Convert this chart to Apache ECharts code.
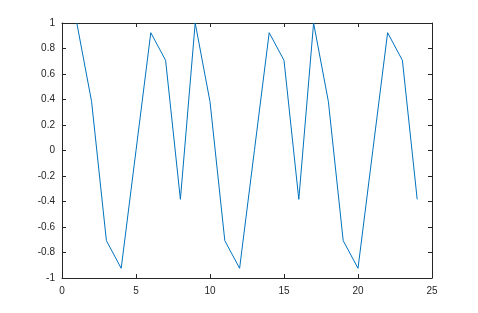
<!DOCTYPE html>
<html><head><meta charset="utf-8">
<script src="https://cdn.jsdelivr.net/npm/echarts@6/dist/echarts.min.js"></script>
<style>html,body{margin:0;padding:0;background:#fff}#c{width:478px;height:313px}</style>
</head><body><div id="c"></div>
<script>
var xValues = [1,2,3,4,5,6,7,8,9,10,11,12,13,14,15,16,17,18,19,20,21,22,23,24];
var yValues = [1,0.383,-0.707,-0.924,0,0.924,0.707,-0.383,1,0.383,-0.707,-0.924,0,0.924,0.707,-0.383,1,0.383,-0.707,-0.924,0,0.924,0.707,-0.383];
var xTicks = [0,5,10,15,20,25];
var yTicks = [-1,-0.8,-0.6,-0.4,-0.2,0,0.2,0.4,0.6,0.8,1];

var chart = echarts.init(document.getElementById('c'), null, {renderer:'canvas'});
var axisCol = '#262626';
var fmt = function(v){ return String(Math.round(v*10)/10); };
function common(){ return {
  axisLine:{show:true, onZero:false, lineStyle:{color:axisCol, width:1}},
  axisTick:{show:true, inside:true, length:4, lineStyle:{color:axisCol, width:1}},
  splitLine:{show:false}
};}
chart.setOption({
  animation:false,
  grid:{left:62, right:46, top:23, bottom:35},
  xAxis:[
    Object.assign({type:'value', min:xTicks[0], max:xTicks[xTicks.length-1], interval:5, position:'bottom',
      axisLabel:{color:axisCol, fontFamily:'Liberation Sans', fontSize:10, margin:8, formatter:fmt}}, common()),
    Object.assign({type:'value', min:xTicks[0], max:xTicks[xTicks.length-1], interval:5, position:'top',
      axisLabel:{show:false}}, common())
  ],
  yAxis:[
    Object.assign({type:'value', min:yTicks[0], max:yTicks[yTicks.length-1], interval:0.2, position:'left',
      axisLabel:{color:axisCol, fontFamily:'Liberation Sans', fontSize:10, margin:7, formatter:fmt}}, common()),
    Object.assign({type:'value', min:yTicks[0], max:yTicks[yTicks.length-1], interval:0.2, position:'right',
      axisLabel:{show:false}}, common())
  ],
  series:[{
    type:'line', xAxisIndex:0, yAxisIndex:0,
    data:xValues.map(function(x,i){return [x,yValues[i]];}),
    showSymbol:false, symbol:'none',
    lineStyle:{color:'#0072BD', width:1},
    clip:true
  }]
});
</script></body></html>
